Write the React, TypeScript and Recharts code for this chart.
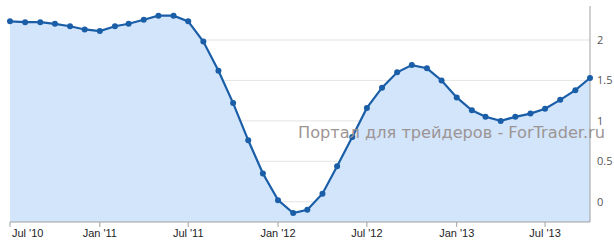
import React from "react";
import { ComposedChart, Area, XAxis, YAxis, CartesianGrid } from "recharts";

const months = [
  "2010-07", "2010-08", "2010-09", "2010-10", "2010-11", "2010-12",
  "2011-01", "2011-02", "2011-03", "2011-04", "2011-05", "2011-06",
  "2011-07", "2011-08", "2011-09", "2011-10", "2011-11", "2011-12",
  "2012-01", "2012-02", "2012-03", "2012-04", "2012-05", "2012-06",
  "2012-07", "2012-08", "2012-09", "2012-10", "2012-11", "2012-12",
  "2013-01", "2013-02", "2013-03", "2013-04", "2013-05", "2013-06",
  "2013-07", "2013-08", "2013-09", "2013-10",
];

const values = [
  2.23, 2.22, 2.22, 2.2, 2.17, 2.13, 2.11, 2.17, 2.2, 2.25, 2.3, 2.3,
  2.23, 1.98, 1.62, 1.22, 0.76, 0.35, 0.02, -0.14, -0.1, 0.1, 0.44, 0.8,
  1.16, 1.41, 1.6, 1.69, 1.65, 1.5, 1.29, 1.13, 1.05, 1.0, 1.05, 1.09,
  1.15, 1.26, 1.38, 1.53,
];

const xTickMonths = ["2010-07", "2011-01", "2011-07", "2012-01", "2012-07", "2013-01", "2013-07"];
const xTickLabels = ["Jul '10", "Jan '11", "Jul '11", "Jan '12", "Jul '12", "Jan '13", "Jul '13"];
const yTicks = [0, 0.5, 1, 1.5, 2];
const watermark = "Портал для трейдеров - ForTrader.ru";

const toTs = (m: string) => {
  const [y, mo] = m.split("-").map(Number);
  return Date.UTC(y, mo - 1, 1);
};

const data = months.map((m, i) => ({ t: toTs(m), v: values[i] }));
const xTicks = xTickMonths.map(toTs);

const XTick = (props: any) => {
  const { x, y, payload, index } = props;
  const idx = xTicks.indexOf(payload.value);
  const label = idx >= 0 ? xTickLabels[idx] : "";
  const first = index === 0;
  return (
    <text
      x={first ? x + 2 : x}
      y={y}
      dy="0.71em"
      textAnchor={first ? "start" : "middle"}
      fontSize={11}
      fontFamily="Liberation Sans, Arial, sans-serif"
      fill="#1e1e1e"
    >
      {label}
    </text>
  );
};

export default function App() {
  return (
    <div style={{ position: "absolute", left: 0, top: 0, width: 614, height: 243, background: "#fff" }}>
      <ComposedChart
        width={614}
        height={243}
        data={data}
        margin={{ top: 6, right: 0, left: 10, bottom: 0 }}
      >
        <CartesianGrid vertical={false} stroke="#e4e4e4" horizontalValues={yTicks} />
        <XAxis
          dataKey="t"
          type="number"
          scale="time"
          domain={[data[0].t, data[data.length - 1].t]}
          ticks={xTicks}
          tick={<XTick />}
          tickSize={5}
          tickMargin={2}
          height={21}
          stroke="#a0a0a0"
          interval={0}
        />
        <XAxis
          xAxisId="top"
          orientation="top"
          type="number"
          domain={[0, 1]}
          height={0}
          tick={false}
          tickLine={false}
          stroke="#a0a0a0"
        />
        <YAxis
          orientation="right"
          type="number"
          domain={[-0.25, 2.42]}
          ticks={yTicks}
          tickFormatter={(v: number) => String(v)}
          width={24}
          tickLine={false}
          tickSize={5}
          tickMargin={2}
          stroke="#a0a0a0"
          tick={{ fontSize: 11, fill: "#555", fontFamily: "Open Sans, DejaVu Sans, sans-serif" }}
          interval={0}
        />
        <YAxis
          yAxisId="left"
          orientation="left"
          type="number"
          domain={[0, 1]}
          width={0}
          tick={false}
          tickLine={false}
          stroke="#a0a0a0"
        />
        <Area
          type="linear"
          dataKey="v"
          stroke="#1a5ea8"
          strokeWidth={2.2}
          fill="#d2e5fb"
          fillOpacity={1}
          baseValue={-0.25}
          dot={{ r: 3, fill: "#1a5ea8", stroke: "none" }}
          activeDot={false}
          isAnimationActive={false}
        />
      </ComposedChart>
      <svg
        width={614}
        height={243}
        style={{ position: "absolute", left: 0, top: 0, pointerEvents: "none" }}
      >
        <text
          x={298}
          y={138}
          fontSize={16}
          fontFamily="DejaVu Sans, sans-serif"
          fill="#9d9494"
          textLength={307}
          lengthAdjust="spacingAndGlyphs"
        >
          {watermark}
        </text>
      </svg>
    </div>
  );
}
